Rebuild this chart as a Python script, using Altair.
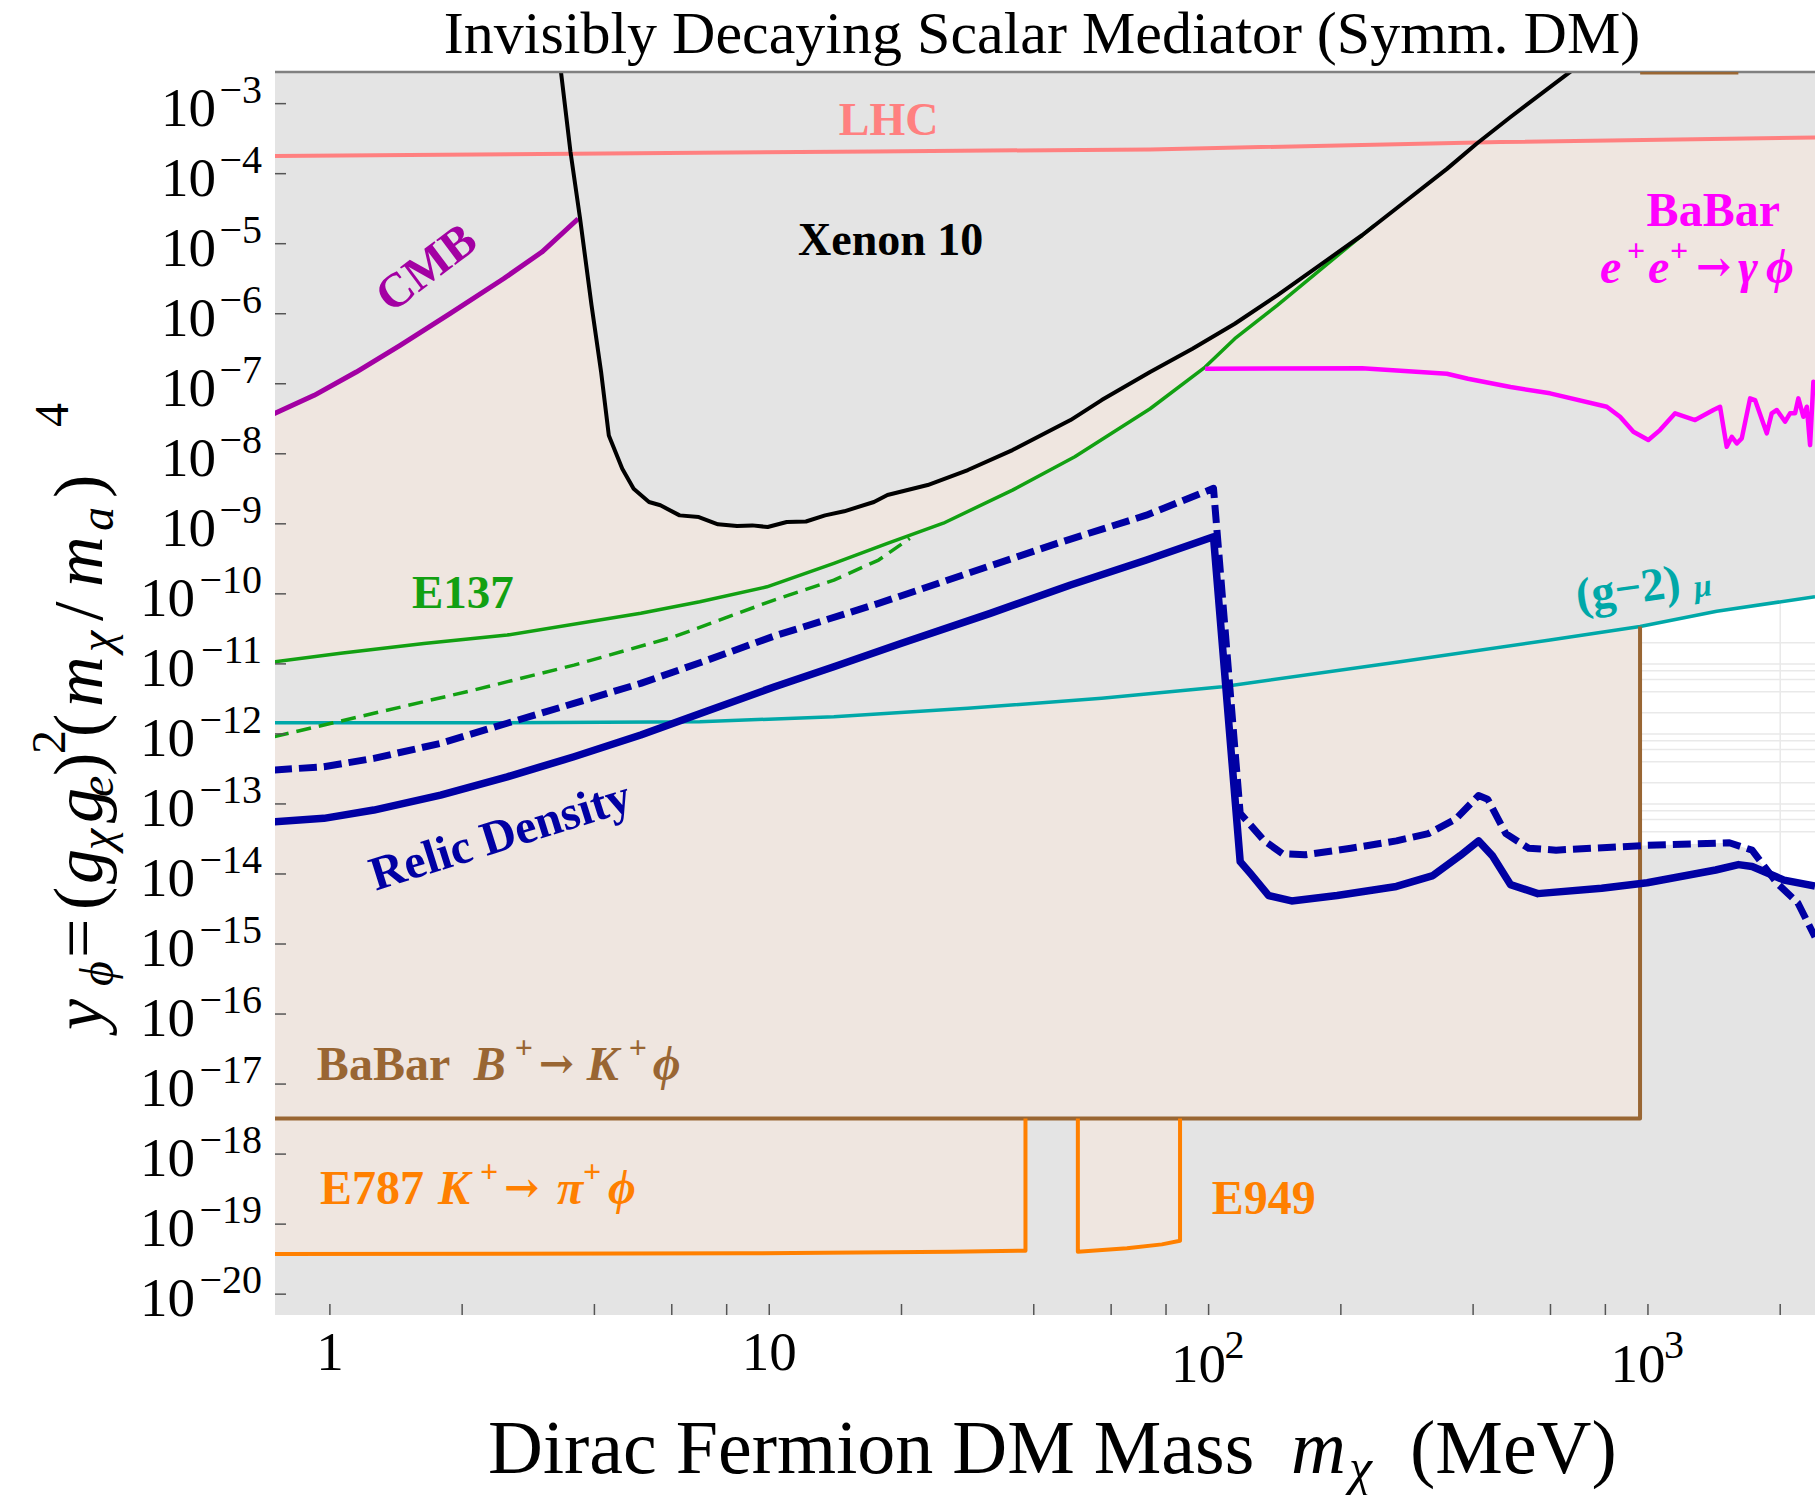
import altair as alt
import pandas as pd

FONT = "Liberation Serif"
ARROW_FONT = "DejaVu Serif"

# ---------------------------------------------------------------- colours
GRAY = "#e4e4e4"
BEIGE = "#efe6e0"
SALMON = "#ff8080"
PURPLE = "#a300a3"
GREEN = "#12a012"
TEAL = "#00a8a8"
BLUE = "#0000a3"
MAGENTA = "#ff00ff"
BROWN = "#996633"
ORANGE = "#ff8000"

# ---------------------------------------------------------------- frame
W, H = 1540, 1243
X_DOMAIN = [0.75, 2400.0]
Y_DOMAIN = [5.04e-21, 2.83e-3]

xs = alt.Scale(type="log", domain=X_DOMAIN, nice=False)
ys = alt.Scale(type="log", domain=Y_DOMAIN, nice=False)

# ---------------------------------------------------------------- curves  (m in MeV, y dimensionless)
lhc_m = [0.746, 17.3, 73.6, 461, 2400]
lhc_y = [1.79e-4, 2.08e-4, 2.22e-4, 2.83e-4, 3.28e-4]

cmb_m = [0.746, 0.921, 1.148, 1.445, 1.876, 2.484, 3.037, 3.673]
cmb_y = [3.73e-8, 6.84e-8, 1.47e-7, 3.54e-7, 1.0e-6, 3.16e-6, 7.6e-6, 2.27e-5]

xenon_m = [3.322, 3.529, 3.711, 3.940, 4.143, 4.314, 4.629, 4.913, 5.325, 5.653,
           6.252, 6.913, 7.643, 8.448, 9.15, 9.92, 10.96, 12.12, 13.40, 14.81,
           17.31, 18.58, 22.94, 28.32, 35.78, 48.5, 57.1, 73.6, 91.9, 114.7,
           143.3, 178.9, 223.5, 279.3, 348.7, 407.3, 486.7, 664, 738]
xenon_y = [4.94e-3, 2.04e-4, 2.27e-5, 1.32e-6, 1.47e-7, 1.83e-8, 6.12e-9, 3.17e-9, 2.05e-9, 1.84e-9,
           1.32e-9, 1.25e-9, 9.84e-10, 9.3e-10, 9.5e-10, 9.0e-10, 1.06e-9, 1.08e-9, 1.32e-9, 1.51e-9,
           2.05e-9, 2.58e-9, 3.58e-9, 5.86e-9, 1.13e-8, 3.03e-8, 5.85e-8, 1.47e-7, 3.16e-7, 7.2e-7,
           1.83e-6, 4.91e-6, 1.32e-5, 3.94e-5, 1.17e-4, 2.67e-4, 6.44e-4, 2.82e-3, 4.6e-3]
# where the Xenon 10 curve meets the LHC line
xenon_lhc_m, xenon_lhc_y = 411, 2.8e-4

e137_m = [0.746, 1.058, 1.637, 2.533, 5.10, 6.95, 9.88, 14.03, 18.58, 24.9,
          35.78, 49.6, 73.6, 98.2, 114.7, 143.3, 178.9, 238.9]
e137_y = [1.07e-11, 1.42e-11, 1.96e-11, 2.58e-11, 5.27e-11, 7.7e-11, 1.26e-10, 2.73e-10, 5.26e-10, 1.02e-9,
          3.03e-9, 9.08e-9, 4.4e-8, 1.73e-7, 4.4e-7, 1.32e-6, 4.17e-6, 1.85e-5]

e137d_m = [0.746, 1.259, 2.127, 3.593, 6.07, 10.25, 14.03, 17.74, 20.89]
e137d_y = [9.12e-13, 1.97e-12, 4.23e-12, 9.6e-12, 2.44e-11, 8.16e-11, 1.57e-10, 3.04e-10, 6.21e-10]

gm2_m = [0.746, 2.40, 6.95, 14.03, 28.3, 57.1, 107.5, 272.8, 598.6, 959.4, 1434, 2400]
gm2_y = [1.44e-12, 1.44e-12, 1.49e-12, 1.76e-12, 2.32e-12, 3.22e-12, 4.72e-12, 1.07e-11, 2.19e-11,
         3.41e-11, 5.65e-11, 9.1e-11]

relic_m = [0.746, 0.969, 1.259, 1.786, 2.533, 3.593, 5.10, 7.225, 10.25, 14.03,
           19.93, 31.84, 48.5, 72.2, 102.6, 118.0, 124.6, 137.0, 154.5, 196.1,
           267.6, 324.0, 373.8, 411.6, 442.2, 486.4, 561.5, 784.7, 996, 1426,
           1607, 1726, 2041, 2400]
relic_y = [5.57e-14, 6.23e-14, 8.18e-14, 1.34e-13, 2.44e-13, 4.72e-13, 9.64e-13, 2.12e-12, 4.67e-12, 9.1e-12,
           1.96e-11, 5.27e-11, 1.34e-10, 3.04e-10, 6.53e-10, 1.50e-14, 1.01e-14, 4.92e-15, 4.12e-15, 4.92e-15,
           6.64e-15, 9.5e-15, 1.83e-14, 2.97e-14, 1.83e-14, 7.06e-15, 5.24e-15, 6.25e-15, 7.5e-15, 1.14e-14,
           1.36e-14, 1.28e-14, 8.18e-15, 6.71e-15]

relicd_m = [0.746, 0.969, 1.259, 1.786, 2.533, 3.593, 5.10, 7.225, 10.25, 17.74,
            28.3, 45.2, 72.2, 102.6, 118.0, 133.9, 147.2, 165.9, 210.8, 267.6,
            316.3, 365.1, 411.6, 431.6, 474.8, 535.2, 617.9, 996, 1532, 1726,
            1965, 2193, 2400]
relicd_y = [3.05e-13, 3.40e-13, 4.48e-13, 7.33e-13, 1.42e-12, 2.73e-12, 5.27e-12, 1.13e-11, 2.49e-11, 7.31e-11,
            1.96e-10, 5.26e-10, 1.33e-9, 3.21e-9, 7.35e-14, 2.97e-14, 1.95e-14, 1.88e-14, 2.33e-14, 2.97e-14,
            3.77e-14, 6.07e-14, 1.32e-13, 1.17e-13, 3.77e-14, 2.33e-14, 2.19e-14, 2.56e-14, 2.79e-14, 2.19e-14,
            7.42e-15, 3.88e-15, 1.26e-15]
# where the two relic-density curves cross above 1 GeV
relic_cross_m, relic_cross_y = 1864, 1.08e-14

babar_m = [98.2, 223.5, 348.7, 389.4, 486.7, 598.6, 805.9, 864.1, 926.5, 1002,
           1065, 1153, 1280, 1409, 1459, 1511, 1552, 1593, 1635, 1708,
           1753, 1864, 1913, 1965, 2052, 2106, 2162, 2200, 2258, 2299,
           2339, 2380, 2430]
babar_y = [1.64e-7, 1.67e-7, 1.39e-7, 1.18e-7, 8.97e-8, 7.3e-8, 4.7e-8, 3.38e-8, 2.07e-8, 1.57e-8,
           2.18e-8, 3.78e-8, 3.03e-8, 4.22e-8, 4.7e-8, 1.26e-8, 1.75e-8, 1.41e-8, 1.66e-8, 6.19e-8,
           5.85e-8, 1.96e-8, 3.78e-8, 4.22e-8, 2.87e-8, 3.78e-8, 3.78e-8, 6.19e-8, 3.38e-8, 4.7e-8,
           1.33e-8, 1.07e-7, 9.0e-8]

# B+ -> K+ phi box
bk_floor = 3.22e-18
bk_edge_m = 959.4
bk_top_m = [960, 1606]

# E787 / E949 boxes (lower edges)
e787_m = [0.746, 8.62, 26.0, 38.3]
e787_y = [3.74e-20, 3.83e-20, 4.03e-20, 4.17e-20]
e949_m = [50.4, 65.2, 78.3, 86.1]
e949_y = [4.03e-20, 4.51e-20, 5.14e-20, 5.8e-20]

# faint grid left visible in the open region above 1 GeV
grid_y = [2e-11, 1e-11, 8e-12, 6e-12, 4e-12, 2e-12, 1e-12, 8e-13, 6e-13, 4e-13,
          2e-13, 1e-13, 8e-14, 6e-14, 4e-14]
grid_x = [2000]
grid_x_span = [1.0e-14, 7.6e-11]

# axis ticks
x_ticks = [1, 2, 4, 6, 8, 10, 20, 40, 60, 80, 100, 200, 400, 600, 800, 1000, 2000]
y_exps = list(range(-3, -21, -1))


# ---------------------------------------------------------------- helpers
def frame(ms, vals):
    return pd.DataFrame({"m": ms, "y": vals, "i": list(range(len(ms)))})


def enc(chart):
    return chart.encode(
        x=alt.X("m:Q", scale=xs, axis=None),
        y=alt.Y("y:Q", scale=ys, axis=None),
        order="i:Q",
    )


def curve(ms, vals, color, width, dash=None):
    props = dict(color=color, strokeWidth=width, clip=True, strokeJoin="round")
    if dash:
        props["strokeDash"] = dash
    return enc(alt.Chart(frame(ms, vals)).mark_line(**props))


def polygon(ms, vals, color):
    return enc(alt.Chart(frame(ms, vals)).mark_line(fill=color, strokeWidth=0, clip=True))


def note(text, m, y, color, size, dx=0, dy=0, italic=False, bold=True, angle=0,
         align="left", baseline="alphabetic", font=FONT):
    props = dict(font=font, fontSize=size, color=color, align=align, baseline=baseline,
                 fontWeight="bold" if bold else "normal",
                 fontStyle="italic" if italic else "normal")
    if dx:
        props["dx"] = dx
    if dy:
        props["dy"] = dy
    if angle:
        props["angle"] = angle
    df = pd.DataFrame({"m": [m], "y": [y], "t": [text]})
    return alt.Chart(df).mark_text(**props).encode(
        x=alt.X("m:Q", scale=xs, axis=None),
        y=alt.Y("y:Q", scale=ys, axis=None),
        text="t:N",
    )


def formula(pieces, m, y, color):
    """Lay out a short formula piece by piece from one anchor."""
    out = []
    for t, dx, dy, sz, it in pieces:
        arrow = t == "\u2192"
        out.append(note(t, m, y, color, 42 if arrow else sz, dx=dx, dy=(dy - 2 if arrow else dy),
                        italic=it, font=ARROW_FONT if arrow else FONT))
    return out


def pix_text(text, px, py, size, dx=0, dy=0, italic=False, angle=0, align="left"):
    props = dict(font=FONT, fontSize=size, color="black", align=align, baseline="alphabetic",
                 fontStyle="italic" if italic else "normal")
    if dx:
        props["dx"] = dx
    if dy:
        props["dy"] = dy
    if angle:
        props["angle"] = angle
    df = pd.DataFrame({"t": [text]})
    return alt.Chart(df).mark_text(**props).encode(x=alt.value(px), y=alt.value(py), text="t:N")


layers = []

# axes (left and bottom lines only)
axis_style = dict(title=None, labels=False, ticks=False, grid=False, domain=True,
                  domainColor="#808080", domainWidth=2.5)
layers.append(
    alt.Chart(pd.DataFrame({"m": [1.0], "y": [1e-10]})).mark_point(opacity=0).encode(
        x=alt.X("m:Q", scale=xs, axis=alt.Axis(**axis_style)),
        y=alt.Y("y:Q", scale=ys, axis=alt.Axis(**axis_style)),
    )
)

# ---------------------------------------------------------------- shaded regions
# open region above 1 GeV (between g-2 and the relic-density curves)
ws_m = [m for m in gm2_m if m >= bk_edge_m]
ws_y = [v for m, v in zip(gm2_m, gm2_y) if m >= bk_edge_m]
solid_tail = [(m, v) for m, v in zip(relic_m, relic_y) if m > relic_cross_m][::-1]
dash_tail = [(m, v) for m, v in zip(relicd_m, relicd_y) if bk_edge_m < m < relic_cross_m][::-1]
white_m = ws_m + [p[0] for p in solid_tail] + [relic_cross_m] + [p[0] for p in dash_tail] + [bk_edge_m]
white_y = ws_y + [p[1] for p in solid_tail] + [relic_cross_y] + [p[1] for p in dash_tail] + [2.55e-14]
layers.append(polygon(white_m, white_y, "white"))

grid_df = pd.DataFrame({"y": grid_y, "m": [bk_edge_m] * len(grid_y), "m2": [X_DOMAIN[1]] * len(grid_y)})
layers.append(
    alt.Chart(grid_df).mark_rule(color="#e9e9e9", strokeWidth=1.5).encode(
        x=alt.X("m:Q", scale=xs, axis=None), x2="m2:Q",
        y=alt.Y("y:Q", scale=ys, axis=None))
)
gx_df = pd.DataFrame({"m": grid_x, "y": [grid_x_span[0]], "y2": [grid_x_span[1]]})
layers.append(
    alt.Chart(gx_df).mark_rule(color="#e9e9e9", strokeWidth=1.5).encode(
        x=alt.X("m:Q", scale=xs, axis=None),
        y=alt.Y("y:Q", scale=ys, axis=None), y2="y2:Q")
)

# upper excluded band: below CMB / Xenon 10 / LHC, above E137 and BaBar(e+e-)
n_j = xenon_m.index(3.711)
xen_part = [(m, v) for m, v in zip(xenon_m[n_j:], xenon_y[n_j:]) if m < xenon_lhc_m]
lhc_part = [(m, v) for m, v in zip(lhc_m, lhc_y) if m > xenon_lhc_m] + [(2430, 3.3e-4)]
babar_rev = list(zip(babar_m, babar_y))[::-1]
e137_rev = [(m, v) for m, v in zip(e137_m, e137_y) if m <= babar_m[0]][::-1]
upper = (list(zip(cmb_m, cmb_y)) + xen_part + [(xenon_lhc_m, xenon_lhc_y)] + lhc_part
         + babar_rev + e137_rev)
layers.append(polygon([p[0] for p in upper], [p[1] for p in upper], BEIGE))

# lower excluded band: below g-2 and above the B -> K phi floor
lower = [(m, v) for m, v in zip(gm2_m, gm2_y) if m <= bk_edge_m]
lower += [(bk_edge_m, bk_floor), (gm2_m[0], bk_floor)]
layers.append(polygon([p[0] for p in lower], [p[1] for p in lower], BEIGE))

# E787 and E949 boxes
box787 = [(e787_m[0], bk_floor), (e787_m[-1], bk_floor)] + list(zip(e787_m, e787_y))[::-1]
layers.append(polygon([p[0] for p in box787], [p[1] for p in box787], BEIGE))
box949 = [(e949_m[0], bk_floor), (e949_m[-1], bk_floor)] + list(zip(e949_m, e949_y))[::-1]
layers.append(polygon([p[0] for p in box949], [p[1] for p in box949], BEIGE))

# ---------------------------------------------------------------- boundary curves
layers.append(curve(gm2_m, gm2_y, TEAL, 3.5))
layers.append(curve(e137_m, e137_y, GREEN, 3.5))
layers.append(curve(e137d_m, e137d_y, GREEN, 3.5, dash=[15, 8]))
layers.append(curve(cmb_m, cmb_y, PURPLE, 5))
layers.append(curve(lhc_m, lhc_y, SALMON, 4))
layers.append(curve(xenon_m, xenon_y, "black", 4))
layers.append(curve(babar_m, babar_y, MAGENTA, 4.5))

box_line = [(gm2_m[0], bk_floor), (bk_edge_m, bk_floor), (bk_edge_m, gm2_y[gm2_m.index(bk_edge_m)])]
layers.append(curve([p[0] for p in box_line], [p[1] for p in box_line], BROWN, 4))

l787 = list(zip(e787_m, e787_y)) + [(e787_m[-1], bk_floor)]
layers.append(curve([p[0] for p in l787], [p[1] for p in l787], ORANGE, 4))
l949 = [(e949_m[0], bk_floor)] + list(zip(e949_m, e949_y)) + [(e949_m[-1], bk_floor)]
layers.append(curve([p[0] for p in l949], [p[1] for p in l949], ORANGE, 4))

layers.append(curve(relic_m, relic_y, BLUE, 7.5))
layers.append(curve(relicd_m, relicd_y, BLUE, 7, dash=[18, 7]))

# ---------------------------------------------------------------- frame + ticks
layers.append(
    alt.Chart(pd.DataFrame({"a": [0]})).mark_rule(color="#808080", strokeWidth=2.5).encode(
        x=alt.value(0), x2=alt.value(W), y=alt.value(0))
)
layers.append(curve(bk_top_m, [Y_DOMAIN[1]] * 2, BROWN, 5))

layers.append(
    alt.Chart(pd.DataFrame({"m": x_ticks})).mark_rule(color="#555555", strokeWidth=1.5).encode(
        x=alt.X("m:Q", scale=xs, axis=None), y=alt.value(H), y2=alt.value(H - 11))
)
layers.append(
    alt.Chart(pd.DataFrame({"y": [10.0 ** e for e in y_exps]})).mark_rule(
        color="#555555", strokeWidth=1.5).encode(
        y=alt.Y("y:Q", scale=ys, axis=None), x=alt.value(0), x2=alt.value(11))
)

# ---------------------------------------------------------------- tick labels
lab = dict(font=FONT, color="black", baseline="alphabetic")
xl_df = pd.DataFrame({"m": [1, 10], "t": ["1", "10"]})
layers.append(alt.Chart(xl_df).mark_text(fontSize=55, align="center", **lab).encode(
    x=alt.X("m:Q", scale=xs, axis=None), y=alt.value(H + 55), text="t:N"))
xp_df = pd.DataFrame({"m": [100, 1000], "t": ["10", "10"], "e": ["2", "3"]})
layers.append(alt.Chart(xp_df).mark_text(fontSize=55, align="center", dx=-10, **lab).encode(
    x=alt.X("m:Q", scale=xs, axis=None), y=alt.value(H + 67), text="t:N"))
layers.append(alt.Chart(xp_df).mark_text(fontSize=40, align="left", dx=16, **lab).encode(
    x=alt.X("m:Q", scale=xs, axis=None), y=alt.value(H + 43), text="e:N"))

yl_df = pd.DataFrame({"y": [10.0 ** e for e in y_exps],
                      "t": ["10"] * len(y_exps),
                      "e": ["\u2212" + str(-e) for e in y_exps],
                      "w": [len(str(-e)) for e in y_exps]})
for w, px in [(1, -59), (2, -80)]:
    layers.append(alt.Chart(yl_df[yl_df.w == w]).mark_text(fontSize=55, align="right", dy=22, **lab).encode(
        y=alt.Y("y:Q", scale=ys, axis=None), x=alt.value(px), text="t:N"))
layers.append(alt.Chart(yl_df).mark_text(fontSize=40, align="right", dy=-1, **lab).encode(
    y=alt.Y("y:Q", scale=ys, axis=None), x=alt.value(-13), text="e:N"))

# ---------------------------------------------------------------- annotations
layers.append(note("LHC", 18.7, 3.51e-4, SALMON, 46, align="center"))
layers.append(note("Xenon 10", 18.9, 6.95e-6, "black", 46, align="center"))
layers.append(note("E137", 2.008, 6.34e-11, GREEN, 47, align="center"))
layers.append(note("CMB", 1.663, 4.38e-6, PURPLE, 48, angle=323, align="center", baseline="middle"))
layers.append(note("Relic Density", 2.447, 3.4e-14, BLUE, 48, angle=342.5, align="center", baseline="middle"))

layers.append(note("(g\u22122)", 693, 5.69e-11, TEAL, 47, angle=352))
layers.append(note("\u03bc", 693, 5.69e-11, TEAL, 32, dx=118, dy=3, angle=352, italic=True))

layers.append(note("BaBar", 993, 1.79e-5, MAGENTA, 48))
layers += formula([("e", 0, 0, 48, True), ("+", 27, -22, 32, False), ("e", 48, 0, 48, True),
                   ("+", 70, -22, 32, False), ("\u2192", 96, 0, 48, False),
                   ("\u03b3", 138, 0, 48, True), ("\u03d5", 166, 0, 48, True)],
                  778, 2.72e-6, MAGENTA)

layers += formula([("BaBar", 0, 0, 48, False), ("B", 157, 0, 48, True), ("+", 198, -22, 32, False),
                   ("\u2192", 222, 0, 48, False), ("K", 270, 0, 48, True),
                   ("+", 312, -22, 32, False), ("\u03d5", 336, 0, 48, True)],
                  0.934, 1.14e-17, BROWN)

layers += formula([("E787", 0, 0, 48, False), ("K", 118, 0, 48, True), ("+", 160, -22, 32, False),
                   ("\u2192", 184, 0, 48, False), ("\u03c0", 237, 0, 48, True),
                   ("+", 263, -22, 32, False), ("\u03d5", 288, 0, 48, True)],
                  0.949, 1.94e-19, ORANGE)

layers.append(note("E949", 101.6, 1.41e-19, ORANGE, 48))

# ---------------------------------------------------------------- titles
layers.append(pix_text("Invisibly Decaying Scalar Mediator (Symm. DM)", 767, -19, 60, align="center"))

XT_Y = 1401
layers.append(pix_text("Dirac Fermion DM Mass", 213, XT_Y, 76))
layers.append(pix_text("m", 1016, XT_Y, 76, italic=True))
layers.append(pix_text("\u03c7", 1074, XT_Y + 12, 52, italic=True))
layers.append(pix_text("(MeV)", 1135, XT_Y, 76))

# y-axis title, written bottom-to-top: (text, offset along the line, shift, size, italic)
YT_X, YT_Y = -173, 958
for t, dx, dy, sz, it in [("y", 0, 0, 70, True), ("\u03d5", 44, 11, 48, True),
                          ("=", 72, 0, 70, False), ("(", 120, 0, 70, False),
                          ("g", 146, 0, 70, True), ("\u03c7", 180, 11, 48, True),
                          ("g", 207, 0, 70, True), ("e", 233, 11, 48, True),
                          (")", 254, 0, 70, False), ("2", 276, -37, 48, False),
                          ("(", 293, 0, 70, False), ("m", 323, 0, 70, True),
                          ("\u03c7", 378, 11, 48, True), ("/", 409, 0, 70, False),
                          ("m", 443, 0, 70, True), ("a", 499, 11, 48, True),
                          (")", 532, 0, 70, False), ("4", 603, -34, 48, False)]:
    layers.append(pix_text(t, YT_X, YT_Y, sz, dx=dx, dy=dy, italic=it, angle=270))

chart = alt.layer(*layers).properties(
    width=W, height=H,
    autosize=alt.AutoSizeParams(type="none"),
    padding={"left": 275, "top": 72, "right": 0, "bottom": 180},
    background="white",
).configure_view(fill=GRAY, strokeWidth=0)

chart.save("out.html", embed_options={"renderer": "svg", "actions": False})
